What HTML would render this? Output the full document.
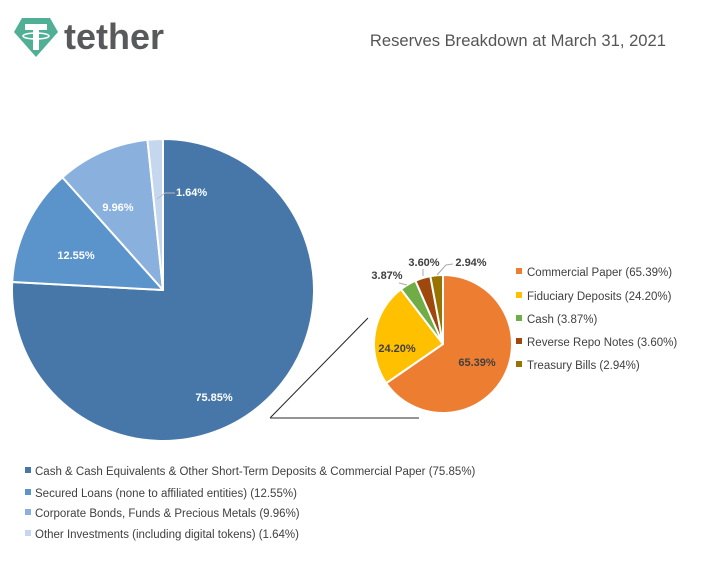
<!DOCTYPE html>
<html><head><meta charset="utf-8"><style>
body{margin:0;background:#fff;width:701px;height:562px;overflow:hidden;font-family:"Liberation Sans",sans-serif}
svg{display:block}
</style></head><body>
<svg id="s" width="701" height="562" xmlns="http://www.w3.org/2000/svg" font-family="Liberation Sans, sans-serif">
<path d="M22 18 H50 L58 32 L36 57 L14 32 Z" fill="#50AF95"/>
<rect x="25" y="24" width="22" height="6" fill="#fff"/>
<rect x="33" y="24" width="6" height="26" fill="#fff"/>
<ellipse cx="36" cy="36" rx="13" ry="3" fill="none" stroke="#fff" stroke-width="1.6"/>
<text x="64" y="49" font-size="36" font-weight="bold" fill="#58595b">tether</text>
<text x="666" y="46" font-size="16.6" fill="#555" text-anchor="end">Reserves Breakdown at March 31, 2021</text>
<g id="big"></g><g id="small"></g>
<line x1="270" y1="418" x2="368" y2="318" stroke="#222" stroke-width="1"/>
<line x1="270" y1="418" x2="419" y2="418" stroke="#555" stroke-width="1.2"/>
<g font-size="11" font-weight="bold" fill="#fff" text-anchor="middle">
<text x="214" y="401">75.85%</text><text x="76" y="259">12.55%</text><text x="118" y="211">9.96%</text>
</g>
<polyline points="157,199 165,193 175,193" fill="none" stroke="#bbb"/>
<text x="176" y="196" font-size="11" font-weight="bold" fill="#fff">1.64%</text>
<g font-size="11" font-weight="bold" fill="#404040" text-anchor="middle">
<text x="477" y="366">65.39%</text><text x="397" y="352">24.20%</text><text x="387" y="279">3.87%</text><text x="424" y="266">3.60%</text><text x="471" y="266">2.94%</text>
</g>
<polyline points="399,283 407,285" stroke="#aaa" fill="none"/>
<polyline points="423,269 423,276" stroke="#aaa" fill="none"/>
<polyline points="453,264 446,265 437,275" stroke="#aaa" fill="none"/>
<g font-size="11.5" fill="#404040">
<rect x="516" y="268" width="6" height="6" fill="#ED7D31"/><text x="527" y="276">Commercial Paper (65.39%)</text>
<rect x="516" y="292" width="6" height="6" fill="#FFC000"/><text x="527" y="300">Fiduciary Deposits (24.20%)</text>
<rect x="516" y="315" width="6" height="6" fill="#70AD47"/><text x="527" y="323">Cash (3.87%)</text>
<rect x="516" y="338" width="6" height="6" fill="#9E480E"/><text x="527" y="346">Reverse Repo Notes (3.60%)</text>
<rect x="516" y="361" width="6" height="6" fill="#997300"/><text x="527" y="369">Treasury Bills (2.94%)</text>
<rect x="25" y="467" width="6" height="6" fill="#4677A8"/><text x="35" y="475">Cash &amp; Cash Equivalents &amp; Other Short-Term Deposits &amp; Commercial Paper (75.85%)</text>
<rect x="25" y="489" width="6" height="6" fill="#5B93CB"/><text x="35" y="497">Secured Loans (none to affiliated entities) (12.55%)</text>
<rect x="25" y="509" width="6" height="6" fill="#8AB1DD"/><text x="35" y="517">Corporate Bonds, Funds &amp; Precious Metals (9.96%)</text>
<rect x="25" y="530" width="6" height="6" fill="#C5D7EE"/><text x="35" y="538">Other Investments (including digital tokens) (1.64%)</text>
</g>
</svg>
<script>
function pie(id,cx,cy,r,vals,cols){var g=document.getElementById(id),a=-Math.PI/2,t=vals.reduce((x,y)=>x+y,0),h='';
vals.forEach(function(v,i){var b=a+v/t*2*Math.PI,l=(b-a)>Math.PI?1:0;
h+='<path d="M'+cx+' '+cy+' L'+(cx+r*Math.cos(a))+' '+(cy+r*Math.sin(a))+' A'+r+' '+r+' 0 '+l+' 1 '+(cx+r*Math.cos(b))+' '+(cy+r*Math.sin(b))+' Z" fill="'+cols[i]+'" stroke="#fff" stroke-width="2" stroke-linejoin="round"/>';a=b;});
g.innerHTML=h;}
pie('big',163,290,151,[75.85,12.55,9.96,1.64],['#4677A8','#5B93CB','#8AB1DD','#C5D7EE']);
pie('small',443,344,69,[65.39,24.20,3.87,3.60,2.94],['#ED7D31','#FFC000','#70AD47','#9E480E','#997300']);
</script>
</body></html>
